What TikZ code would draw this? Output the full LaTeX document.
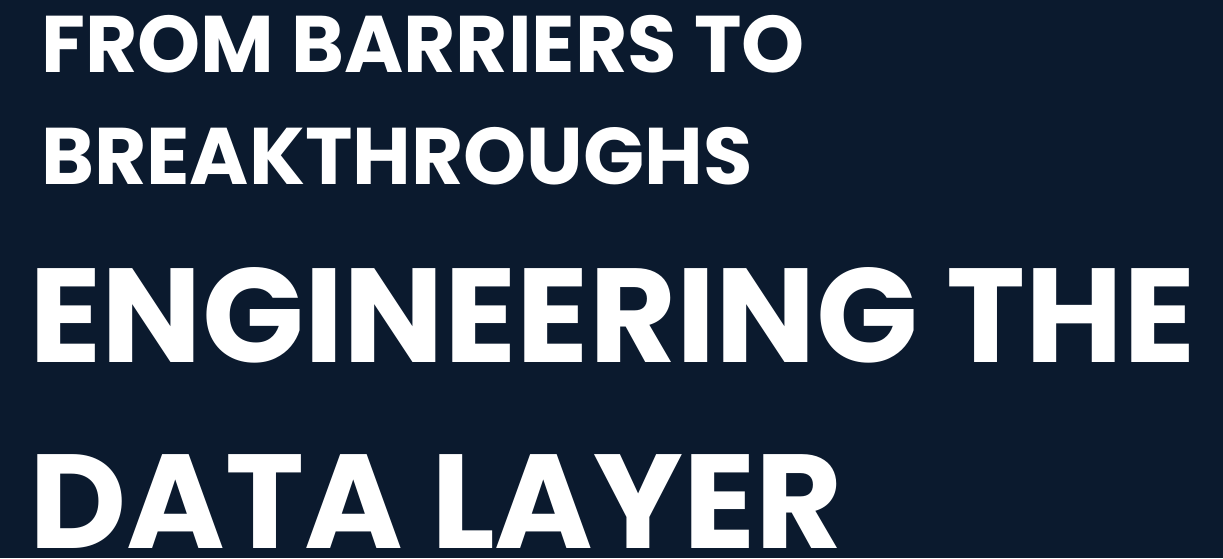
\documentclass[tikz,border=0pt]{standalone}
\usepackage{fontspec}
\setmainfont{Poppins}[UprightFont=* Bold, BoldFont=* Bold]
\definecolor{navy}{HTML}{0B1A2E}
\tikzset{
  title/.style={anchor=base west, inner sep=0pt, text=white, font=\fontsize{80.3}{80}\selectfont},
  bigtitle/.style={anchor=base west, inner sep=0pt, text=white, font=\fontsize{133.8}{135}\selectfont}
}
\begin{document}
\begin{tikzpicture}[x=1pt,y=-1pt]
\fill[navy] (0,0) rectangle (1223,558);
\useasboundingbox (0,0) rectangle (1223,558);
\node[title] (l1) at (41,72) {FROM BARRIERS TO};
\node[title] (l2) at (41,184) {BREAKTHROUGHS};
\node[bigtitle] (l3) at (29,362) {ENGINEERING THE};
\node[bigtitle] (l4) at (29,548) {DATA LAYER};
\end{tikzpicture}
\end{document}
